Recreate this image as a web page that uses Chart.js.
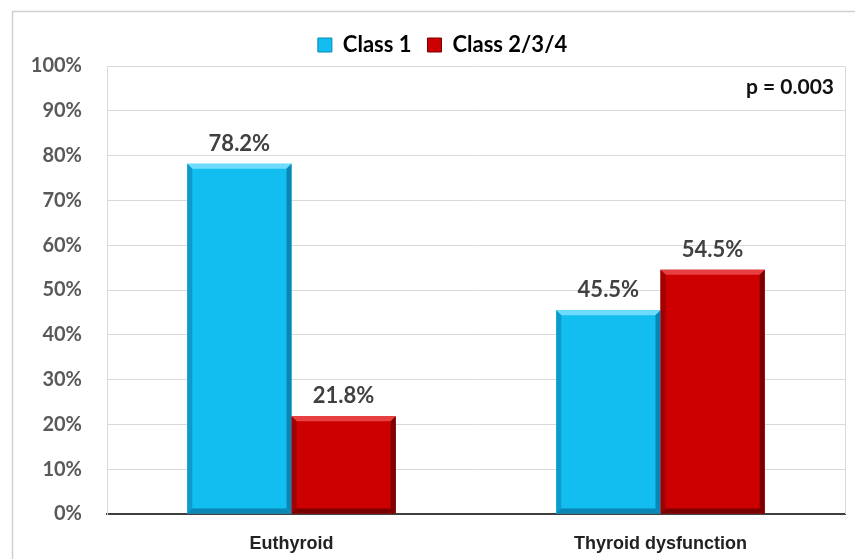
<!DOCTYPE html>
<html>
<head>
<meta charset="utf-8">
<script src="https://cdn.jsdelivr.net/npm/chart.js@4/dist/chart.umd.min.js"></script>
<style>
  html, body { margin: 0; padding: 0; background: #ffffff; }
  #wrap { width: 855px; height: 559px; position: relative; }
</style>
</head>
<body>
<div id="wrap"><canvas id="c" width="855" height="559"></canvas></div>
<script>
// Thyroid status vs. class distribution (percent of each group)
const categories = ['Euthyroid', 'Thyroid dysfunction'];
const seriesNames = ['Class 1', 'Class 2/3/4'];
const class1 = [78.2, 45.5];
const class234 = [21.8, 54.5];
const yTicks = [0, 10, 20, 30, 40, 50, 60, 70, 80, 90, 100];
const pValueText = 'p = 0.003';

const palette = {
  blue:  { fill: '#12BEF0', light: '#6FDBFF', dark: '#0A86B4', edge: '#0E9ACB' },
  red:   { fill: '#CC0000', light: '#E84040', dark: '#7A0000', edge: '#A00000' }
};

// Nudge the legend block slightly right of the canvas centre
const legendShift = {
  id: 'legendShift',
  afterLayout(chart) {
    const lg = chart.legend;
    if (lg) { lg.left += 20; lg.right += 20; }
  }
};

// Outer frame lines (top and left) around the figure
const framePlugin = {
  id: 'frame',
  beforeDraw(chart) {
    const ctx = chart.ctx;
    ctx.save();
    ctx.strokeStyle = '#D0D0D0';
    ctx.lineWidth = 1.5;
    ctx.beginPath();
    ctx.moveTo(12.5, chart.height);
    ctx.lineTo(12.5, 11.5);
    ctx.lineTo(chart.width, 11.5);
    ctx.stroke();
    ctx.restore();
  },
  afterDraw(chart) {
    const a = chart.chartArea, ctx = chart.ctx;
    ctx.save();
    ctx.strokeStyle = '#D9D9D9';
    ctx.lineWidth = 1;
    ctx.beginPath();
    ctx.moveTo(a.right + 0.5, a.bottom);
    ctx.lineTo(a.right + 0.5, a.top + 0.5);
    ctx.stroke();
    // p-value annotation
    ctx.font = 'bold 21px Lato, "Liberation Sans", sans-serif';
    ctx.fillStyle = '#111111';
    ctx.textAlign = 'right';
    ctx.textBaseline = 'middle';
    ctx.fillText(pValueText, a.right - 11, a.top + 21);
    ctx.restore();
  }
};

// Bevelled look for the bars plus value labels above them
const bevelPlugin = {
  id: 'bevel',
  afterDatasetsDraw(chart) {
    const ctx = chart.ctx;
    chart.data.datasets.forEach((ds, di) => {
      const meta = chart.getDatasetMeta(di);
      const col = di === 0 ? palette.blue : palette.red;
      meta.data.forEach((bar, i) => {
        const p = bar.getProps(['x', 'y', 'base', 'width'], true);
        const l = p.x - p.width / 2, r = p.x + p.width / 2;
        const t = p.y, b = p.base;
        const s = 5;
        ctx.save();
        // top highlight
        ctx.fillStyle = col.light;
        ctx.beginPath();
        ctx.moveTo(l, t); ctx.lineTo(r, t); ctx.lineTo(r - s, t + s); ctx.lineTo(l + s, t + s); ctx.closePath();
        ctx.fill();
        // left edge
        ctx.fillStyle = col.edge;
        ctx.beginPath();
        ctx.moveTo(l, t); ctx.lineTo(l + s, t + s); ctx.lineTo(l + s, b - s); ctx.lineTo(l, b); ctx.closePath();
        ctx.fill();
        // right shadow
        ctx.fillStyle = col.dark;
        ctx.beginPath();
        ctx.moveTo(r, t); ctx.lineTo(r, b); ctx.lineTo(r - s, b - s); ctx.lineTo(r - s, t + s); ctx.closePath();
        ctx.fill();
        // bottom shadow
        ctx.beginPath();
        ctx.moveTo(l, b); ctx.lineTo(r, b); ctx.lineTo(r - s, b - s); ctx.lineTo(l + s, b - s); ctx.closePath();
        ctx.fill();
        // value label
        ctx.font = 'bold 22px Lato, "Liberation Sans", sans-serif';
        ctx.fillStyle = '#404040';
        ctx.textAlign = 'center';
        ctx.textBaseline = 'middle';
        ctx.fillText(ds.data[i].toFixed(1) + '%', p.x, t - 20);
        ctx.restore();
      });
    });
  }
};

new Chart(document.getElementById('c'), {
  type: 'bar',
  data: {
    labels: categories,
    datasets: [
      { label: seriesNames[0], data: class1, backgroundColor: palette.blue.fill, borderWidth: 0 },
      { label: seriesNames[1], data: class234, backgroundColor: palette.red.fill, borderWidth: 0 }
    ]
  },
  options: {
    responsive: false,
    animation: false,
    devicePixelRatio: 1,
    layout: { padding: { left: 0, right: 10, top: 18, bottom: 0 } },
    datasets: { bar: { barPercentage: 1.0, categoryPercentage: 0.565 } },
    plugins: {
      legend: {
        position: 'top',
        labels: {
          boxWidth: 14, boxHeight: 14, padding: 16,
          color: '#595959',
          font: { family: 'Lato, "Liberation Sans", sans-serif', size: 22, weight: 'bold' },
          generateLabels(chart) {
            return chart.data.datasets.map((ds, i) => ({
              text: ds.label,
              fillStyle: ds.backgroundColor,
              strokeStyle: i === 0 ? palette.blue.dark : palette.red.dark,
              lineWidth: 1,
              datasetIndex: i
            }));
          }
        }
      },
      tooltip: { enabled: false }
    },
    scales: {
      x: {
        grid: { display: false },
        border: { color: '#404040', width: 2 },
        ticks: {
          color: '#222222', padding: 11,
          font: { family: '"Liberation Sans", Arial, sans-serif', size: 18, weight: 'bold' }
        },
        afterFit(scale) { scale.height = 45; }
      },
      y: {
        min: 0, max: 100,
        afterBuildTicks(scale) { scale.ticks = yTicks.map(v => ({ value: v })); },
        grid: { color: '#D9D9D9', lineWidth: 1, drawTicks: false },
        border: { color: '#D9D9D9', width: 1 },
        ticks: {
          color: '#595959', padding: 25,
          font: { family: 'Lato, "Liberation Sans", sans-serif', size: 20, weight: 'bold' },
          callback: v => v + '%'
        },
        afterFit(scale) { scale.width = 107; }
      }
    }
  },
  plugins: [legendShift, framePlugin, bevelPlugin]
});
</script>
</body>
</html>
